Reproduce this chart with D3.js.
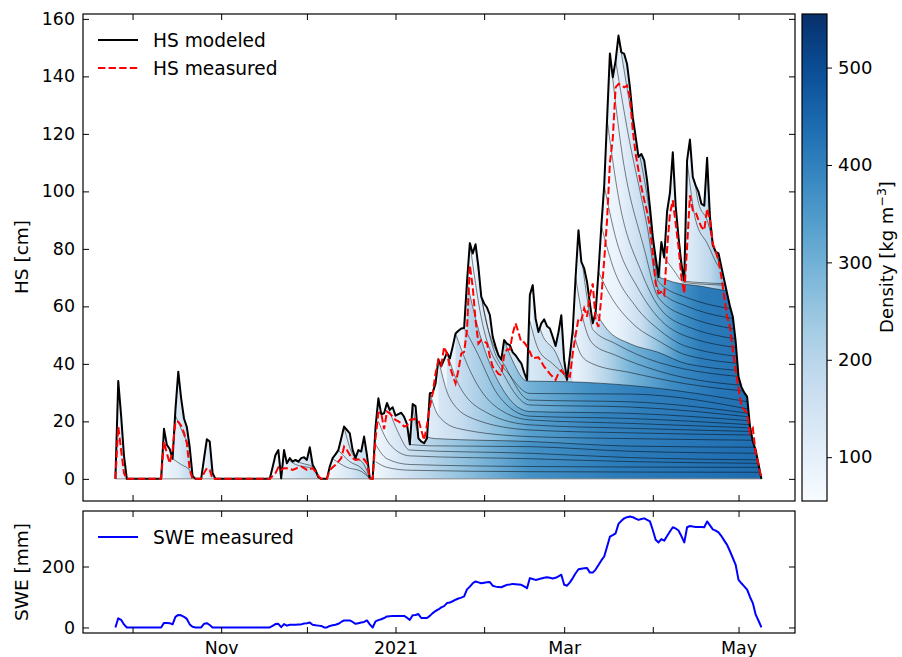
<!DOCTYPE html>
<html><head><meta charset="utf-8">
<script src="https://cdn.jsdelivr.net/npm/d3@7"></script>
<style>
body{margin:0;background:#fff;}
svg text{font-family:"DejaVu Sans",sans-serif;fill:#000;}
</style></head><body>
<svg id="c" width="902" height="657"></svg>
<script>
// ---------------- DATA ----------------
const startDate = new Date(2020, 8, 25); // day 0 = 2020-09-25
// [day, HS cm]
const hsModeled = [[0,0],[1,34],[2,22],[3,8],[4,0],[16,0],[17,17.4],[18,11.8],[19,10.4],[20,7],[21,24],[22,37.3],[23,28],[24,21],[25,18],[26,11],[27,1],[28,0],
[30,0],[31,7],[32,13.8],[33,13],[34,2],[35,0],
[54,0],[55,4],[56,8.3],[57,10],[58,0.2],[59,10],[60,5.4],[61,7.2],[62,6],[63,6.6],[64,6],[65,7.2],[66,7.5],[67,6.6],[68,11],[69,4.9],[70,3.1],[71,0.6],[72,0],
[74,0],[75,4.3],[76,7.2],[77,8.5],[78,10],[79,14],[80,18.2],[81,17],[82,15.8],[83,10],[84,7.2],[85,10],[86,9.5],[87,14.7],[88,8.3],[89,0.2],[90,0],
[91,18],[92,28],[93,22.5],[94,22.8],[95,26.4],[96,24],[97,24.9],[98,22],[99,22.5],[100,23],[101,21.6],[102,19.1],[103,12],[104,26],[105,25.3],[106,14.1],[107,13],[108,12.4],[109,14.1],[110,29.8],[111,30],[112,33.2],[113,41.6],[114,39.2],[115,41.5],[116,43.9],[117,41.9],[118,46],[119,50.6],[120,51.5],[121,52.3],[122,52.5],[123,68.5],[124,82],[125,78.4],[126,81.6],[127,73.7],[128,63.3],[129,61],[130,59.6],[131,57],[132,49.4],[133,46],[134,43],[135,41.5],[136,48.3],[137,47],[138,46.5],[139,44],[140,43],[141,41.5],[142,40.2],[143,37],[144,34.4],[145,64],[146,67.4],[147,55.8],[148,51.1],[149,54.1],[150,55.5],[151,53.1],[152,52.3],[153,49.4],[154,46.2],[155,51],[156,56.9],[157,41.3],[158,34.4],[159,43],[160,51.7],[161,70.2],[162,86.5],[163,75.5],[164,73.2],[165,68.5],[166,61],[167,54.1],[168,58],[169,72],[170,88],[171,102],[172,125],[173,148],[174,139.7],[175,145.5],[176,154.2],[177,148.4],[178,147.8],[179,144.3],[180,136.2],[181,125.8],[182,119],[183,112],[184,113],[185,110.8],[186,103.8],[187,94.5],[188,84.1],[189,77],[190,70.2],[191,82.4],[192,77],[193,93],[194,99.5],[195,113.6],[196,95],[197,84],[198,74.9],[199,69],[200,110.8],[201,118],[202,105],[203,102],[204,99.8],[205,95.7],[206,95],[207,111.7],[208,91.1],[209,81.3],[210,79],[211,78.4],[212,73.7],[213,69.1],[214,64.5],[215,60],[216,56.4],[217,47.7],[218,35.5],[219,32],[220,30],[221,28.6],[222,18.2],[223,13],[224,10],[225,5],[226,0]];

const hsMeasured = [[0,0],[1,18.2],[2,10],[3,2],[4,0],[16,0],[17,13],[18,8.9],[19,5.4],[20,10],[21,19.9],[22,19.9],[23,18.5],[24,16],[25,12.4],[26,3.1],[27,0],
[30,0],[31,2],[32,3.7],[33,3.1],[34,0],
[54,0],[55,1],[56,2],[57,4],[58,3.1],[59,3.7],[60,3.7],[61,3.5],[62,3.1],[63,3.5],[64,4],[65,4.3],[66,3.7],[67,3.1],[68,3.4],[69,3.7],[70,2.5],[71,1],[72,0],
[74,0],[75,3.1],[76,4],[77,4.9],[78,6],[79,7.2],[80,11.2],[81,10],[82,8.3],[83,7.2],[84,6.6],[85,6.7],[86,6.8],[87,6.8],[88,5.4],[89,0.2],[90,0],
[91,14],[92,23],[93,22.8],[94,17.3],[95,23.4],[96,22.8],[97,21.6],[98,20.5],[99,20],[100,19.3],[101,18.2],[102,18.5],[103,20.5],[104,20.7],[105,20.8],[106,20.5],[107,17],[108,13.5],[109,18.8],[110,25],[111,29.8],[112,36.7],[113,41.3],[114,39.6],[115,45.9],[116,43.6],[117,39],[118,36],[119,33.2],[120,37.8],[121,43.6],[122,44.2],[123,51.7],[124,74.3],[125,66.8],[126,55.2],[127,47.1],[128,48.3],[129,47.8],[130,47.1],[131,42.5],[132,39],[133,37.8],[134,36.5],[135,36.1],[136,43],[137,45],[138,45],[139,50.6],[140,54.1],[141,51],[142,47.5],[143,47.5],[144,46],[145,44.2],[146,41.9],[147,42.1],[148,42.3],[149,40.7],[150,39],[151,37.8],[152,36.5],[153,35.5],[154,34.4],[155,36.7],[156,37.8],[157,36.5],[158,36],[159,35.5],[160,43.6],[161,50],[162,55.8],[163,55.2],[164,59.3],[165,56.4],[166,63.9],[167,68],[168,55.2],[169,52.9],[170,63.3],[171,76],[172,90],[173,110],[174,118.3],[175,136.2],[176,137.4],[177,137],[178,136.2],[179,136.8],[180,132.8],[181,121.2],[182,113],[183,107.3],[184,101.5],[185,97],[186,93],[187,87.6],[188,78.4],[189,68],[190,64.5],[191,65],[192,63.9],[193,80],[194,92.2],[195,96.9],[196,88.8],[197,80.7],[198,70.2],[199,64.5],[200,80.7],[201,98.6],[202,93.4],[203,92.8],[204,90],[205,87.6],[206,86.5],[207,94],[208,89.9],[209,81.8],[210,79],[211,76],[212,70.2],[213,63.3],[214,56.4],[215,52.9],[216,44.8],[217,37.8],[218,31.5],[219,25.1],[220,24],[221,22.8],[222,15.9],[223,17.6],[224,9],[225,5],[226,0]];

// [day, SWE mm]
const sweMeasured = [[0,0],[1,30],[2,25],[3,10],[4,0],[16,0],[17,15],[18,15],[19,14],[20,10],[21,35],[22,41],[23,40],[24,35],[25,28],[26,10],[27,2],[28,0],[30,0],[31,12],[32,14],[33,8],[34,0],[54,0],[55,5],[56,11],[57,12],[58,1],[59,11],[60,6],[61,9],[62,9],[63,9],[64,10],[65,10],[66,13],[67,14],[68,16],[69,9],[70,7],[71,6],[72,5],[73,0],[74,0],[75,5],[76,7],[77,9],[78,12],[79,18],[80,23],[81,23],[82,23],[83,18],[84,12],[85,14],[86,16],[87,18],[88,23],[89,10],[90,0],[91,20],[92,24],[93,27],[94,31],[95,36],[96,37],[97,38],[98,38],[99,38],[100,38],[101,38],[102,32],[103,25],[104,40],[105,41],[106,44],[107,31],[108,31],[109,31],[110,38],[111,47],[112,54],[113,59],[114,66],[115,70],[116,80],[117,82],[118,86],[119,91],[120,95],[121,98],[122,102],[123,125],[124,134],[125,145],[126,151],[127,148],[128,145],[129,147],[130,148],[131,149],[132,137],[133,134],[134,133],[135,132],[136,136],[137,140],[138,141],[139,143],[140,142],[141,141],[142,140],[143,135],[144,129],[145,162],[146,159],[147,156],[148,158],[149,161],[150,163],[151,165],[152,163],[153,161],[154,163],[155,168],[156,173],[157,140],[158,137],[159,148],[160,162],[161,178],[162,191],[163,193],[164,194],[165,195],[166,180],[167,180],[168,190],[169,205],[170,220],[171,233],[172,265],[173,298],[174,303],[175,309],[176,340],[177,350],[178,358],[179,362],[180,364],[181,362],[182,357],[183,353],[184,356],[185,358],[186,353],[187,348],[188,320],[189,288],[190,279],[191,290],[192,285],[193,300],[194,315],[195,329],[196,325],[197,318],[198,300],[199,279],[200,329],[201,333],[202,331],[203,330],[204,330],[205,330],[206,329],[207,348],[208,335],[209,322],[210,318],[211,312],[212,300],[213,285],[214,271],[215,250],[216,228],[217,205],[218,156],[219,145],[220,135],[221,124],[222,100],[223,80],[224,42],[225,22],[226,0]];

// modelled layer boundaries: [day, height cm] (each starts at the snow surface when deposited)
const layerLines = [
 [[20,7],[23,5],[26,3],[27,0.3]],
 [[21,22],[24,15],[26,10],[27,0.5]],
 [[59,8],[63,5],[69,3.5],[71,0.3]],
 [[61,7],[65,5.5],[69,4.2],[71,0.5]],
 [[76,7],[81,4],[86,2.6],[89,0.1]],
 [[78,10],[82,6],[86,3.8],[89,0.15]],
 [[80,18],[83,8.5],[87,5],[89,0.2]],
 [[91,6],[95,4],[103,3],[145,2.5],[226,2.3]],
 [[91,12],[95,7],[103,5],[145,4.3],[226,4]],
 [[92,20],[96,12],[103,8],[145,7],[180,6],[226,5.4]],
 [[95,26],[99,16],[103,10],[145,8.9],[180,7.4],[226,6.6]],
 [[103,12],[110,11.5],[145,11.2],[180,9.6],[226,8.9]],
 [[104,26],[106,16],[112,14],[145,13],[180,11.4],[226,11]],
 [[110,29.8],[113,22],[120,17.5],[145,14.7],[180,14],[226,13.4]],
 [[113,41.6],[117,28],[125,21],[145,17],[180,16],[226,15.2]],
 [[116,43.9],[120,33],[130,23],[145,18.8],[180,17.6],[226,16.4]],
 [[119,50.6],[123,40],[132,26],[145,20.5],[180,19.3],[226,17.6]],
 [[122,52.5],[126,45],[134,29],[145,21.8],[180,21],[226,18.6]],
 [[123,68.5],[127,52],[135,32],[145,23.4],[180,22.8],[226,19.9]],
 [[124,82],[128,56],[136,36],[145,25.7],[180,25],[226,21.1]],
 [[126,81.6],[129,58],[137,38],[145,27.4],[180,26.8],[226,22.2]],
 [[128,63.3],[132,46],[138,36],[145,29.7],[180,29.5],[226,23.4]],
 [[136,48.3],[139,41],[144,34],[158,33.8],[180,32.5],[226,26]],
 [[145,55],[148,45],[153,40],[157,36],[158,34.5]],
 [[146,67.4],[149,51],[154,44],[157,37],[158,34.6]],
 [[160,51.7],[163,43],[167,40],[180,37],[200,33],[226,30]],
 [[161,70.2],[164,54],[167,47],[175,43],[190,37.5],[226,32]],
 [[162,86.5],[165,63],[167,52],[175,47],[190,40.5],[226,35]],
 [[168,58],[172,52],[180,47],[190,44],[200,40],[226,37.3]],
 [[169,72],[173,64],[181,54],[190,48],[200,43],[226,39.6]],
 [[170,88],[174,74],[182,60],[190,52],[200,46],[226,41.9]],
 [[171,102],[175,84],[183,66],[190,56],[200,49.5],[226,44.8]],
 [[172,125],[176,98],[184,72],[190,60],[200,53],[226,47.7]],
 [[173,148],[177,115],[185,80],[190,63],[200,56.5],[226,51.1]],
 [[175,145.5],[179,122],[186,88],[190,66],[200,60],[226,54.6]],
 [[176,154.2],[180,130],[187,92],[190,68.5],[200,63],[226,58]],
 [[190,70.2],[195,68.5],[205,67],[214,65.5],[226,65]],
 [[192,77],[195,73],[199,68.3],[210,67.5],[226,67]],
 [[195,113.6],[197,84],[199,68.8],[210,68],[226,67.5]],
 [[200,110.8],[203,90],[207,82],[212,73],[226,70]],
 [[201,118],[204,96],[207,90],[210,79],[212,74],[226,72]],
 [[207,111.7],[208,90],[210,79.5],[212,74.5],[226,73]]
];
// episode of the layer lying just below each boundary
const layerEpisode = [0,0,1,1,2,2,2,3,3,3,3,3,3,4,4,4,4,4,4,5,5,5,5,6,6,7,7,7,7,8,8,8,8,8,8,8,8,9,9,9,9,9];
// density [kg m-3] of each snowfall episode through time: [day, density]
const episodeDensity = [
 [[16,70],[22,110],[28,210]],
 [[54,70],[62,120],[72,210]],
 [[74,70],[82,130],[90,230]],
 [[91,70],[100,140],[110,200],[121,255],[145,365],[175,410],[200,425],[226,440]],
 [[104,70],[113,135],[121,175],[135,270],[145,335],[170,395],[200,420],[226,435]],
 [[123,65],[130,155],[140,255],[145,295],[165,365],[185,405],[205,420],[226,435]],
 [[136,65],[145,130],[158,200],[180,330],[205,415],[226,430]],
 [[160,80],[166,140],[172,205],[180,290],[195,380],[210,420],[226,435]],
 [[168,60],[176,90],[184,170],[190,260],[197,360],[205,410],[226,430]],
 [[191,60],[200,110],[208,190],[214,280],[222,400],[226,430]]
];
// density of the uppermost (newest) layer
const surfaceDensity = [[0,60],[3.9,140],[4,60],[16,60],[27.9,190],[28,60],[30,60],[34,150],[35,60],[54,60],[71.9,170],[72,60],[74,60],[89.9,180],[90,60],[91,60],[103.9,140],[104,60],[109.9,120],[110,60],[122.9,110],[123,60],[144.9,170],[145,60],[159.9,170],[160,60],[168,110],[169,60],[190.9,230],[191,60],[199.9,160],[200,60],[214,250],[226,420]];

const hsTicks = [0,20,40,60,80,100,120,140,160];
const sweTicks = [0,200];
const densityTicks = [100,200,300,400,500];
const monthTicks = ["2020-10-01","2020-11-01","2020-12-01","2021-01-01","2021-02-01","2021-03-01","2021-04-01","2021-05-01"];
const monthLabels = {"2020-11-01":"Nov","2021-01-01":"2021","2021-03-01":"Mar","2021-05-01":"May"};

// ---------------- CHART ----------------
const svg = d3.select("#c");
const X0=83, X1=795, T0=14, T1=501, B0=511, B1=633, CB0=802, CB1=827;
const dayToDate = d => new Date(startDate.getTime() + d*86400000);
const parseD = d3.timeParse("%Y-%m-%d");
const x = d3.scaleTime().domain([new Date(2020,8,13,16), new Date(2021,4,20,18)]).range([X0,X1]);
const yH = d3.scaleLinear().domain([-7.7,161.7]).range([T1,T0]);
const yS = d3.scaleLinear().domain([-18.2,382.2]).range([B1,B0]);
const dens = d3.scaleSequential(d3.interpolateBlues).domain([55,555]);
const yC = d3.scaleLinear().domain([55,555]).range([T1,T0]);
const px = p => x(dayToDate(p[0]));

const defs = svg.append("defs");
const hsArea = d3.area().x(px).y0(yH(0)).y1(p=>yH(p[1]));
defs.append("clipPath").attr("id","hsClip").append("path").attr("d", hsArea(hsModeled));

function makeGrad(id, stops){
  const a = px(stops[0]), b = px(stops[stops.length-1]);
  const g = defs.append("linearGradient").attr("id",id).attr("gradientUnits","userSpaceOnUse")
    .attr("x1",a).attr("x2",b).attr("y1",0).attr("y2",0);
  stops.forEach(s=>{
    g.append("stop").attr("offset",(px(s)-a)/(b-a)).attr("stop-color",dens(s[1]));
  });
}
makeGrad("surf", surfaceDensity);
episodeDensity.forEach((e,i)=>makeGrad("ep"+i, e));

const plot = svg.append("g").attr("clip-path","url(#hsClip)");
plot.append("path").attr("d",hsArea(hsModeled)).attr("fill","url(#surf)");

const layerArea = d3.area().curve(d3.curveMonotoneX).x(px).y0(yH(0)).y1(p=>yH(p[1]));
const layerLine = d3.line().curve(d3.curveMonotoneX).x(px).y(p=>yH(p[1]));
const order = layerLines.map((l,i)=>i).sort((a,b)=>layerLines[b][0][0]-layerLines[a][0][0]);
order.forEach(i=>{
  plot.append("path").attr("d",layerArea(layerLines[i])).attr("fill","url(#ep"+layerEpisode[i]+")");
});
layerLines.forEach(l=>{
  plot.append("path").attr("d",layerLine(l)).attr("fill","none").attr("stroke","#000")
    .attr("stroke-width",0.7).attr("stroke-opacity",0.7);
});

// baseline
svg.append("line").attr("x1",px(hsModeled[0])).attr("x2",px(hsModeled[hsModeled.length-1]))
  .attr("y1",yH(0)).attr("y2",yH(0)).attr("stroke","#888").attr("stroke-width",1);

const line = d3.line().x(px).y(p=>yH(p[1]));
svg.append("path").attr("d",line(hsModeled)).attr("fill","none").attr("stroke","#000").attr("stroke-width",2).attr("stroke-linejoin","round");
svg.append("path").attr("d",line(hsMeasured)).attr("fill","none").attr("stroke","#ff0000").attr("stroke-width",2).attr("stroke-dasharray","7.4,3.2");

const sweLine = d3.line().x(px).y(p=>yS(p[1]));
svg.append("path").attr("d",sweLine(sweMeasured)).attr("fill","none").attr("stroke","#0000ff").attr("stroke-width",2).attr("stroke-linejoin","round");

// axes
const mt = monthTicks.map(parseD);
const fmtM = d => monthLabels[d3.timeFormat("%Y-%m-%d")(d)] || "";
function styleAxis(g, fs){ g.select(".domain").remove(); g.selectAll("line").attr("stroke","#000").attr("stroke-width",1);
  g.selectAll("text").attr("font-size",fs).attr("font-family","DejaVu Sans").attr("fill","#000"); }
svg.append("g").attr("transform",`translate(${X0},0)`).call(d3.axisLeft(yH).tickValues(hsTicks).tickSize(-6).tickPadding(8)).call(g=>styleAxis(g,"17.4px"));
svg.append("g").attr("transform",`translate(${X1},0)`).call(d3.axisRight(yH).tickValues(hsTicks).tickSize(-6).tickFormat("")).call(g=>styleAxis(g,"17.4px"));
svg.append("g").attr("transform",`translate(0,${T1})`).call(d3.axisBottom(x).tickValues(mt).tickSize(-6).tickFormat("")).call(g=>styleAxis(g,"17.4px"));
svg.append("g").attr("transform",`translate(0,${T0})`).call(d3.axisTop(x).tickValues(mt).tickSize(-6).tickFormat("")).call(g=>styleAxis(g,"17.4px"));

svg.append("g").attr("transform",`translate(${X0},0)`).call(d3.axisLeft(yS).tickValues(sweTicks).tickSize(-6).tickPadding(8)).call(g=>styleAxis(g,"17.4px"));
svg.append("g").attr("transform",`translate(${X1},0)`).call(d3.axisRight(yS).tickValues(sweTicks).tickSize(-6).tickFormat("")).call(g=>styleAxis(g,"17.4px"));
svg.append("g").attr("transform",`translate(0,${B1})`).call(d3.axisBottom(x).tickValues(mt).tickSize(-6).tickPadding(9).tickFormat(fmtM)).call(g=>styleAxis(g,"17.4px"));
svg.append("g").attr("transform",`translate(0,${B0})`).call(d3.axisTop(x).tickValues(mt).tickSize(-6).tickFormat("")).call(g=>styleAxis(g,"17.4px"));

// frames
svg.append("rect").attr("x",X0).attr("y",T0).attr("width",X1-X0).attr("height",T1-T0).attr("fill","none").attr("stroke","#000").attr("stroke-width",1.2);
svg.append("rect").attr("x",X0).attr("y",B0).attr("width",X1-X0).attr("height",B1-B0).attr("fill","none").attr("stroke","#000").attr("stroke-width",1.2);

// colorbar
const cg = defs.append("linearGradient").attr("id","cbar").attr("x1",0).attr("x2",0).attr("y1",1).attr("y2",0);
d3.range(0,1.0001,0.05).forEach(t=>cg.append("stop").attr("offset",t).attr("stop-color",d3.interpolateBlues(t)));
svg.append("rect").attr("x",CB0).attr("y",T0).attr("width",CB1-CB0).attr("height",T1-T0).attr("fill","url(#cbar)").attr("stroke","#000").attr("stroke-width",1.2);
svg.append("g").attr("transform",`translate(${CB1},0)`).call(d3.axisRight(yC).tickValues(densityTicks).tickSize(5).tickPadding(6)).call(g=>styleAxis(g,"18px"));

// labels
svg.append("text").attr("transform","translate(28,257) rotate(-90)").attr("text-anchor","middle").attr("font-size","18.5px").text("HS [cm]");
svg.append("text").attr("transform","translate(28,572) rotate(-90)").attr("text-anchor","middle").attr("font-size","18.5px").text("SWE [mm]");
const dl = svg.append("text").attr("transform","translate(893,257) rotate(-90)").attr("text-anchor","middle").attr("font-size","18px");
dl.append("tspan").text("Density [kg m");
dl.append("tspan").attr("font-size","12.5px").attr("dy","-7").text("−3");
dl.append("tspan").attr("dy","7").text("]");

// legends
const lg = [[40,"HS modeled","#000",null],[68,"HS measured","#ff0000","7.4,3.2"]];
lg.forEach(([yy,t,c,da])=>{
  svg.append("line").attr("x1",98).attr("x2",138).attr("y1",yy).attr("y2",yy).attr("stroke",c).attr("stroke-width",2).attr("stroke-dasharray",da);
  svg.append("text").attr("x",153).attr("y",yy+6.6).attr("font-size","18.6px").text(t);
});
svg.append("line").attr("x1",98).attr("x2",138).attr("y1",537).attr("y2",537).attr("stroke","#0000ff").attr("stroke-width",2);
svg.append("text").attr("x",153).attr("y",543.6).attr("font-size","18.6px").text("SWE measured");
</script></body></html>
